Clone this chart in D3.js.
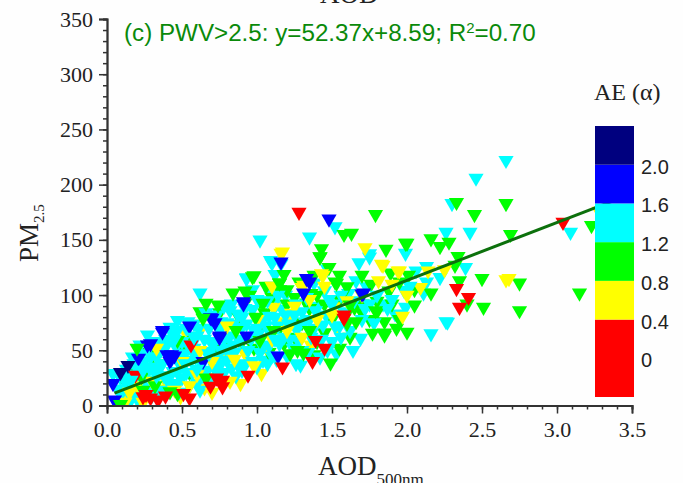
<!DOCTYPE html>
<html>
<head>
<title>PM2.5 vs AOD</title>
<script src="https://d3js.org/d3.v7.min.js"></script>
<style>
    html, body { margin: 0; padding: 0; background: #fefefe; }
    svg { display: block; }
    .serif { font-family: "Liberation Serif", serif; fill: #222; }
    .sans { font-family: "Liberation Sans", sans-serif; }
</style>
</head>
<body>
<script>
// AE class boundaries and colours of the colour bar
const aeBreaks = [-0.4, 0.4, 0.8, 1.2, 1.6, 2.0, 2.4];
const aeColors = ["#ff0000", "#ffff00", "#00ff00", "#00ffff", "#0000ff", "#00007f"];
const aeLabels = ["0", "0.4", "0.8", "1.2", "1.6", "2.0"];
const aeLabelValues = [0, 0.4, 0.8, 1.2, 1.6, 2.0];

const xTicks = [0, 0.5, 1, 1.5, 2, 2.5, 3, 3.5];
const yTicks = [0, 50, 100, 150, 200, 250, 300, 350];

// fit line from the panel title
const fitSlope = 52.37, fitIntercept = 8.59;
const fitX = [0.05, 3.5];

// [AOD, PM2.5], one list per AE class
const cyanBack = [[2.66,222],[2.46,206],[2.30,183],[2.42,157],[2.26,157],[1.99,138],[2.39,125],[2.13,126],[2.06,122],[2.22,116],[2.13,112],[2.11,102],[1.99,89],[2.27,75.6],[3.09,157],[2.16,65],[2.26,76],[1.92,83],
    [1.52,162],[1.02,150],[1.35,152.6],[1.75,137.5],[1.75,134.6],[1.09,131.5],[1.16,128.5],[1.68,129.4],[1.47,123.6],[1.12,118.8],[0.93,115.8],[1.66,113],[1.38,111],[0.97,105],[1.45,104],[1.61,101.6],[1.73,107.6],[1.98,104.4],[1.09,100.7],[1.19,100],[1.40,90],[1.13,91.6],[1.84,92],[1.93,82.6],[1.17,87],
    [0.62,102],[0.27,64],[0.47,77],[0.42,71],[0.54,76],[0.93,115],[1.10,129],[0.82,86],[1.64,50],[1.69,61],[1.53,47],[1.29,36.6],[1.04,41],[0.09,25],[0.04,29],[0.15,3]];
const greenBack = [[2.33,184],[2.66,183],[2.45,173],[2.69,155],[2.16,151],[2.0,147],[2.28,148],[2.22,144],[2.34,135],[2.32,127],[2.01,118],[2.35,113],[2.50,115],[2.75,111],[2.40,92],[2.51,89],[2.75,86],[3.15,102],[2.16,102],[2.05,91],[3.23,163],[2.0,66.5],[1.85,65.7],[1.93,70],
    [1.79,173],[1.58,155],[1.63,156],[1.99,147],[1.43,142],[1.86,141.5],[1.42,134.5],[1.48,125],[0.98,117.6],[1.18,118.8],[1.89,120],[1.52,112],[1.15,111],[1.60,107.6],[1.76,110],[1.88,103.7],[1.15,105],[1.36,101.6],[0.92,103.7],[1.02,94.6],[1.33,93],[1.80,94.6],[1.65,88.7],[1.80,85]];
const cyanMid = [[0.10,12],[0.12,22],[0.13,33],[0.16,8],[0.17,18],[0.15,28],[0.18,38],[0.20,6],[0.21,15],[0.22,25],[0.20,35],[0.23,47],[0.26,17],[0.27,30],[0.25,40],[0.28,52],[0.30,9],[0.32,23],[0.31,33],[0.33,44],[0.30,58],[0.36,14],[0.38,27],[0.37,38],[0.36,50],[0.39,60],[0.42,19],[0.44,31],[0.43,42],[0.46,53],[0.44,64],[0.48,12],[0.50,25],[0.49,36],[0.52,47],[0.50,58],[0.53,70],[0.55,18],[0.57,30],[0.56,41],[0.58,52],[0.60,63],[0.58,74],[0.62,14],[0.64,27],[0.63,37],[0.66,49],[0.65,60],[0.68,70],[0.66,84],[0.70,22],[0.72,34],[0.74,45],[0.71,56],[0.75,68],[0.73,82],[0.78,30],[0.80,41],[0.79,52],[0.82,63],[0.80,75],[0.78,90],[0.86,27],[0.87,37],[0.85,48],[0.88,59],[0.90,71],[0.87,83],[0.92,38],[0.94,50],[0.96,60],[0.93,74],[0.97,87],[1.00,35],[1.02,48],[1.01,65],[1.04,78],[1.07,38],[1.08,54],[1.10,66],[1.08,81],[1.13,42],[1.15,56],[1.14,72],[1.20,45],[1.22,60],[1.21,74],[1.26,38],[1.28,58],[1.27,70],[1.30,85],[1.34,48],[1.36,62],[1.35,78],[1.42,44],[1.43,60],[1.44,73],[1.50,58],[1.52,72],[1.50,92],[1.56,62],[1.58,85],[1.70,78],[1.75,92],[1.90,96]];
const cyanFill = [[0.07,15],[0.11,30],[0.14,14],[0.19,20],[0.17,44],[0.24,22],[0.22,55],[0.29,15],[0.29,44],[0.34,13],[0.35,34],[0.34,58],[0.41,26],[0.40,55],[0.47,20],[0.47,45],[0.47,68],[0.53,30],[0.54,55],[0.60,20],[0.59,44],[0.61,70],[0.67,32],[0.69,58],[0.70,78],[0.74,28],[0.76,38],[0.78,60],[0.76,76],[0.83,34],[0.83,46],[0.84,74],[0.83,92],[0.90,32],[0.90,60],[0.92,88],[0.97,40],[0.98,68],[1.0,96],[1.03,55],[1.06,72],[1.07,95],[1.10,45],[1.12,80],[1.14,100],[1.18,62],[1.19,82],[1.24,52],[1.25,72],[1.26,92],[1.30,50],[1.32,76],[1.33,98],[1.38,70],[1.39,86],[1.47,50],[1.46,82],[1.48,96],[1.55,72],[1.56,100],[1.62,68],[1.65,95],[1.72,88],[1.8,100],[1.87,88],[2.02,108],[1.78,75]];
const yellowList = [[2.25,123],[2.14,122],[1.95,122],[2.68,115],[2.66,114],[2.09,107],[1.97,81],[3.28,176],[1.72,143],[1.17,139],[1.83,128],[1.94,122],[1.43,119.4],[1.81,113],[1.30,107],[1.45,108],[1.23,81],[1.11,89],
    [0.11,7],[0.23,1],[0.40,20],[0.36,15],[0.65,16],[0.89,20],[1.03,29],[0.77,44],[0.92,47],[1.06,53],[0.36,36.7],[0.52,67],[0.62,68],[1.17,76],[1.23,83.6],[1.53,70],[1.36,55],[1.31,109],[1.44,118],[1.51,89.5],[1.84,127],[1.16,138],[0.44,20],[0.49,8]];
const yellowFill = [[0.15,12],[0.2,18],[0.3,22],[0.45,14],[0.55,18],[0.6,28],[0.7,12],[0.82,22],[0.98,36],[0.85,42],[0.7,40],[0.62,50],[0.5,40],[0.33,52],[1.1,60],[1.2,68],[1.3,62],[1.4,78],[1.5,82],[1.6,95],[1.7,100],[1.25,90],[1.0,78],[1.35,96],[1.9,110],[2.0,100],[1.1,108],[0.8,72],[0.12,3],[0.24,3]];
const navyList = [[0.14,36.4],[0.09,30]];
const blueList = [[1.48,169],[1.16,130],[1.35,112],[1.70,101],[0.37,66.5],[0.29,56],[0.55,72],[0.69,79.6],[0.72,75],[0.75,61.5],[0.40,46],[0.45,45],[0.42,40],[0.04,20],[0.91,92],[0.93,63],[0.64,40],[0.21,43],[1.14,45],[1.71,102],[0.91,94],[0.75,63],[0.43,46],[0.70,79],[0.27,55],[0.37,68],[1.31,102],[1.33,115],[0.05,5]];
const redList = [[1.28,175],[3.04,166],[2.33,106],[2.41,98],[2.35,89],[1.58,79],[1.39,59],[1.37,40],[1.17,35],[0.94,27.6],[0.77,17],[0.77,23],[0.56,55],[0.19,27.6],[0.24,8],[0.39,8.6],[0.34,5],[0.51,11],[0.55,7],[0.69,17.6],[1.58,82],[1.45,52],[0.29,7],[0.73,25],[0.26,10]];
const greenFill = [[1.05,84],[1.10,98],[1.2,92],[1.25,98],[1.3,75],[1.35,88],[1.4,100],[1.45,92],[1.5,78],[1.55,96],[1.6,84],[1.7,84],[1.75,78],[1.85,76],[1.9,92],[1.95,78],[1.7,92],[1.45,66],[1.4,58],[1.25,62],[1.18,56],[1.08,48],[0.98,52],[0.9,58],[0.8,62],[0.72,52],[0.6,48],[0.55,30],[0.5,50],[0.38,55],[0.33,38],[0.28,48],[0.18,33],[0.13,20],[0.75,84],[0.88,80],[0.95,100],[1.06,108],[1.2,105],[1.28,112],[1.38,118],[1.55,118],[1.7,118],[1.95,112],[2.05,105],[0.55,62],[0.62,85],[1.0,66],[1.15,70],[1.55,52],[1.62,62],[1.38,46]];
const greenFront = [[0.2,52],[0.23,26],[0.42,12.5],[0.74,91],[0.66,92.6],[0.84,102],[0.97,116.7],[0.47,59],[0.66,25],[1.22,47],[1.49,38.5],[1.27,50],[1.77,65.6],[1.85,63.8],[1.66,76],[1.60,74.6],[1.79,86],[1.42,134.7],[1.53,110.8],[0.99,80],[1.04,92.6],[0.64,79],[1.15,111],[1.02,59],[1.11,68],[1.31,47.6],[0.86,68],[0.24,14],[1.35,68],[1.62,91],[0.09,1],[0.32,18],[0.47,11]];
const cyanFront = [[0.47,30],[0.52,38],[0.33,27],[0.60,33],[0.28,35],[0.76,50],[0.84,55],[0.68,47],[1.00,70],[1.12,60],[1.25,82],[0.58,62],[0.45,60],[0.16,23],[0.24,32],[0.90,80]];

const w = 683, h = 483;
const x = d3.scaleLinear().domain([0, 3.5]).range([107, 632]);
const y = d3.scaleLinear().domain([0, 350]).range([405.5, 19]);
const barY = d3.scaleLinear().domain([-0.4, 2.4]).range([397, 126]);

const svg = d3.select("body").append("svg").attr("width", w).attr("height", h);

svg.append("clipPath").attr("id", "plot").append("rect")
    .attr("x", x(0)).attr("y", y(350)).attr("width", x(3.5) - x(0)).attr("height", y(0) - y(350));

// scrap of the axis title from the panel above, cut by the page edge
svg.append("text").attr("class", "serif").attr("x", 320).attr("y", 3)
    .attr("font-size", 27).text("AOD");

// points, back to front
const layers = [
    [cyanBack, "#00ffff"], [greenBack, "#00ff00"], [greenFill, "#00ff00"], [yellowList, "#ffff00"],
    [cyanMid, "#00ffff"], [cyanFill, "#00ffff"], [yellowFill, "#ffff00"], [navyList, "#00007f"],
    [blueList, "#0000ff"], [greenFront, "#00ff00"], [redList, "#ff0000"], [cyanFront, "#00ffff"]
];
const triangle = d3.symbol(d3.symbolTriangle).size(100)();
const marks = svg.append("g").attr("clip-path", "url(#plot)");
layers.forEach(([pts, color]) => {
    marks.selectAll(null).data(pts).enter().append("path")
        .attr("d", triangle)
        .attr("fill", color)
        .attr("transform", d => "translate(" + x(d[0]) + "," + y(d[1]) + ") rotate(180)");
});

// fit line
svg.append("path")
    .datum(fitX)
    .attr("fill", "none").attr("stroke", "#0c700c").attr("stroke-width", 3)
    .attr("d", d3.line().x(d => x(d)).y(d => y(fitSlope * d + fitIntercept)));

// axes
const yAxis = d3.axisLeft(y).tickValues(yTicks).tickSize(8).tickPadding(6).tickFormat(d3.format("d"));
const xAxis = d3.axisBottom(x).tickValues(xTicks).tickSize(8).tickPadding(8).tickFormat(d3.format(".1f"));
const yMinor = d3.axisLeft(y).tickValues(d3.range(0, 351, 10)).tickSize(4).tickFormat("");
const xMinor = d3.axisBottom(x).tickValues(d3.range(0, 36).map(d => d / 10)).tickSize(4).tickFormat("");

svg.append("g").attr("transform", "translate(107,0)").call(yMinor);
svg.append("g").attr("transform", "translate(0,405.5)").call(xMinor);
const gy = svg.append("g").attr("transform", "translate(107,0)").call(yAxis);
const gx = svg.append("g").attr("transform", "translate(0,405.5)").call(xAxis);
svg.selectAll(".domain").attr("stroke", "#333").attr("stroke-width", 1.8);
svg.selectAll(".tick line").attr("stroke", "#333").attr("stroke-width", 1.5);
gy.selectAll("text").attr("class", "serif").attr("font-size", 22).attr("font-family", "Liberation Serif");
gx.selectAll("text").attr("class", "serif").attr("font-size", 22).attr("font-family", "Liberation Serif");

// colour bar
const bar = svg.append("g");
bar.selectAll("rect").data(aeColors).enter().append("rect")
    .attr("x", 595).attr("width", 39)
    .attr("y", (d, i) => barY(aeBreaks[i + 1]))
    .attr("height", (d, i) => barY(aeBreaks[i]) - barY(aeBreaks[i + 1]))
    .attr("fill", d => d);
bar.selectAll("text").data(aeLabels).enter().append("text")
    .attr("class", "sans")
    .attr("x", 641)
    .attr("y", (d, i) => barY(aeLabelValues[i]) + 9)
    .attr("font-size", 20).attr("fill", "#222")
    .text(d => d);
svg.append("text").attr("class", "serif").attr("x", 594).attr("y", 100)
    .attr("font-size", 24).text("AE (α)");

// panel title
const title = svg.append("text").attr("class", "sans").attr("x", 124).attr("y", 41)
    .attr("font-size", 24.2).attr("fill", "#0a8a0a");
title.append("tspan").text("(c) PWV>2.5: y=52.37x+8.59; R");
title.append("tspan").attr("dy", -8).attr("font-size", 15).text("2");
title.append("tspan").attr("dy", 8).text("=0.70");

// axis titles
const xTitle = svg.append("text").attr("class", "serif").attr("x", 318).attr("y", 475).attr("font-size", 27);
xTitle.append("tspan").text("AOD");
xTitle.append("tspan").attr("dy", 10).attr("font-size", 17).text("500nm");

const yTitle = svg.append("text").attr("class", "serif")
    .attr("transform", "translate(38,262) rotate(-90)").attr("font-size", 27);
yTitle.append("tspan").text("PM");
yTitle.append("tspan").attr("dy", 6).attr("font-size", 15).text("2.5");
</script>
</body>
</html>
